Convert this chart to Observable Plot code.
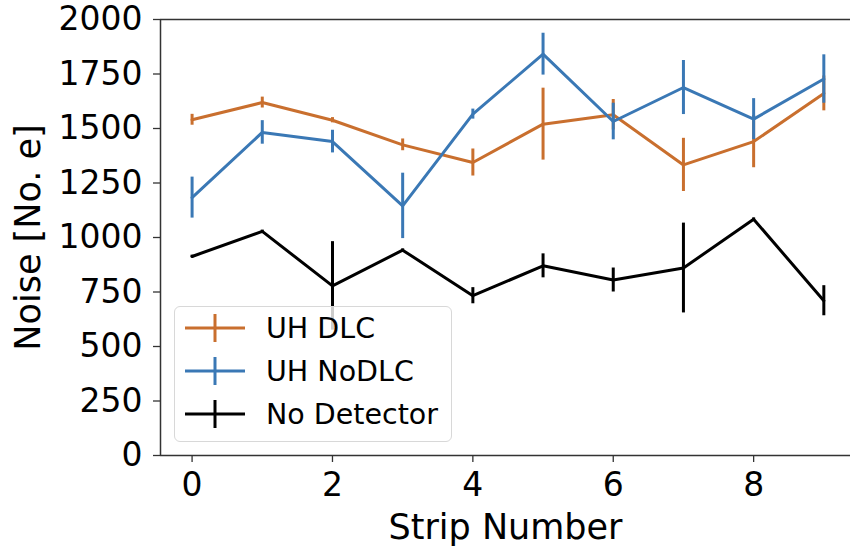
<!DOCTYPE html>
<html>
<head>
<meta charset="utf-8">
<script src="https://cdn.jsdelivr.net/npm/d3@7"></script>
<script src="https://cdn.jsdelivr.net/npm/@observablehq/plot@0.6"></script>
<style>
  html, body { margin: 0; padding: 0; background: #fff; overflow: hidden; }
  #wrap { position: relative; width: 850px; height: 547px; font-family: "DejaVu Sans", sans-serif; }
  #legend { position: absolute; left: 174px; top: 306px; width: 278px; height: 136px;
    border: 1.5px solid #d8d8d8; border-radius: 6px; background: rgba(255,255,255,0.8); box-sizing: border-box; }
  .entry { position: absolute; left: 0; height: 30px; display: flex; align-items: center; }
  .entry svg { margin-left: 10px; }
  .entry span { margin-left: 21px; font-size: 28.5px; color: #000; white-space: nowrap; }
</style>
</head>
<body>
<div id="wrap"></div>
<script>
const strips = [0, 1, 2, 3, 4, 5, 6, 7, 8, 9];
const seriesNames = ["UH DLC", "UH NoDLC", "No Detector"];
const seriesColors = ["#c96f2e", "#3a78b5", "#000000"];
const dlc      = [1540, 1619, 1538, 1425, 1344, 1520, 1563, 1333, 1440, 1661];
const dlcErr   = [25, 25, 12, 27, 62, 165, 70, 122, 120, 80];
const nodlc    = [1183, 1482, 1440, 1145, 1566, 1841, 1532, 1688, 1543, 1727];
const nodlcErr = [94, 54, 52, 150, 23, 96, 84, 124, 94, 111];
const nodet    = [913, 1028, 778, 942, 733, 870, 805, 860, 1084, 710];
const nodetErr = [6, 6, 203, 6, 37, 55, 55, 206, 6, 69];
const yTicks = [0, 250, 500, 750, 1000, 1250, 1500, 1750, 2000];
const xTicks = [0, 2, 4, 6, 8];
const xLabel = "Strip Number";
const yLabel = "Noise [No. e]";

const values = [dlc, nodlc, nodet];
const errs = [dlcErr, nodlcErr, nodetErr];
const rows = [];
seriesNames.forEach((s, k) => strips.forEach((x, i) => rows.push({series: s, x, y: values[k][i], e: errs[k][i]})));

const marks = [];
seriesNames.forEach((s, k) => {
  const d = rows.filter(r => r.series === s);
  marks.push(Plot.line(d, {x: "x", y: "y", stroke: seriesColors[k], strokeWidth: 3}));
  marks.push(Plot.ruleX(d, {x: "x", y1: r => r.y - r.e, y2: r => r.y + r.e, stroke: seriesColors[k], strokeWidth: 3}));
});

const chart = Plot.plot({
  width: 850,
  height: 547,
  marginLeft: 160,
  marginTop: 19,
  marginBottom: 92,
  marginRight: 0,
  style: {fontFamily: "DejaVu Sans, sans-serif", background: "#fff", color: "#000"},
  x: {domain: [-0.45, 9.38]},
  y: {domain: [0, 2000]},
  marks: [
    Plot.ruleY([0, 2000], {stroke: "#333", strokeWidth: 1.5}),
    Plot.ruleX([-0.45], {stroke: "#333", strokeWidth: 1.5}),
    Plot.axisY({ticks: yTicks, tickSize: 7, tickPadding: 11, fontSize: 33, stroke: "#333", strokeWidth: 1.3, label: null, tickFormat: d => String(d)}),
    Plot.axisX({ticks: xTicks, tickSize: 7, tickPadding: 10, fontSize: 33, stroke: "#333", strokeWidth: 1.3, label: null, tickFormat: d => String(d)}),
    ...marks,
    Plot.text([xLabel], {frameAnchor: "bottom", dy: 72, text: d => d, fontSize: 35, lineAnchor: "middle", fill: "#000"}),
    Plot.text([yLabel], {frameAnchor: "left", dx: -132, text: d => d, rotate: -90, fontSize: 35, lineAnchor: "middle", textAnchor: "middle", fill: "#000"})
  ]
});
const wrap = document.getElementById("wrap");
wrap.appendChild(chart);

const legend = document.createElement("div");
legend.id = "legend";
const tops = [6, 49, 92];
seriesNames.forEach((s, k) => {
  const e = document.createElement("div");
  e.className = "entry";
  e.style.top = tops[k] + "px";
  e.innerHTML = `<svg width="60" height="30"><line x1="0" y1="15" x2="60" y2="15" stroke="${seriesColors[k]}" stroke-width="3"/><line x1="30" y1="1" x2="30" y2="29" stroke="${seriesColors[k]}" stroke-width="3"/></svg><span>${s}</span>`;
  legend.appendChild(e);
});
wrap.appendChild(legend);
</script>
</body>
</html>
